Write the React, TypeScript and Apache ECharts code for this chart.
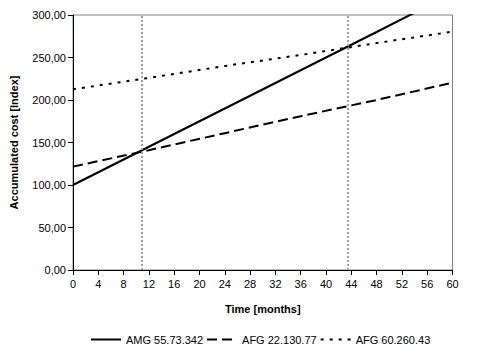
import React, { useEffect, useRef } from "react";
import * as echarts from "echarts";

const months = [0, 12, 24, 36, 48, 60];
const amg = [100, 145, 190, 235, 280, 325.5];
const afg22 = [121.6, 141, 161, 181, 200, 220.4];
const afg60 = [212.6, 226, 240, 253, 267, 280.4];
const breakEven = [10.9, 43.4];
const seriesNames = ["AMG 55.73.342", "AFG 22.130.77", "AFG 60.260.43"];

const FONT = "Liberation Sans, Arial, sans-serif";

export default function App() {
  const ref = useRef<HTMLDivElement>(null);
  useEffect(() => {
    const chart = echarts.init(ref.current!, null, { renderer: "svg" });
    const pair = (arr: number[]) => months.map((m, i) => [m, arr[i]]);
    chart.setOption({
      animation: false,
      textStyle: { fontFamily: FONT },
      grid: {
        left: 68,
        top: 15,
        right: 31.5,
        bottom: 86,
        show: true,
        borderColor: "#808080",
        borderWidth: 1,
        backgroundColor: "transparent",
      },
      legend: {
        left: 85,
        top: 329,
        itemWidth: 30,
        itemHeight: 12,
        itemGap: 3,
        itemStyle: { opacity: 0 },
        textStyle: { fontFamily: FONT, fontSize: 11, color: "#000" },
        data: seriesNames,
      },
      xAxis: {
        type: "value",
        min: 0,
        max: 60,
        interval: 4,
        name: "Time [months]",
        nameLocation: "middle",
        nameGap: 33,
        nameTextStyle: { fontFamily: FONT, fontSize: 11, fontWeight: "bold", color: "#000" },
        axisLine: { show: true, lineStyle: { color: "#000", width: 1 } },
        axisTick: { show: true, length: 5, lineStyle: { color: "#000" } },
        axisLabel: { fontFamily: FONT, fontSize: 11, color: "#000", margin: 8 },
        splitLine: { show: false },
      },
      yAxis: {
        type: "value",
        min: 0,
        max: 300,
        interval: 50,
        name: "Accumulated cost [Index]",
        nameLocation: "middle",
        nameGap: 54,
        nameTextStyle: { fontFamily: FONT, fontSize: 11, fontWeight: "bold", color: "#000" },
        axisLine: { show: true, lineStyle: { color: "#000", width: 1 } },
        axisTick: { show: true, length: 5, lineStyle: { color: "#000" } },
        axisLabel: {
          fontFamily: FONT,
          fontSize: 11,
          color: "#000",
          margin: 7,
          formatter: (v: number) => v.toFixed(2).replace(".", ","),
        },
        splitLine: { show: false },
      },
      series: [
        {
          name: seriesNames[0],
          type: "line",
          data: pair(amg),
          symbol: "none",
          clip: true,
          lineStyle: { color: "#000", width: 2, type: "solid" },
          itemStyle: { color: "#000" },
          markLine: {
            silent: true,
            symbol: "none",
            label: { show: false },
            lineStyle: { color: "#a0a0a0", width: 2, type: [2, 2] },
            data: breakEven.map((x) => ({ xAxis: x })),
          },
        },
        {
          name: seriesNames[1],
          type: "line",
          data: pair(afg22),
          symbol: "none",
          lineStyle: { color: "#000", width: 2, type: [10, 5] },
          itemStyle: { color: "#000" },
        },
        {
          name: seriesNames[2],
          type: "line",
          data: pair(afg60),
          symbol: "none",
          lineStyle: { color: "#000", width: 2, type: [3, 6] },
          itemStyle: { color: "#000" },
        },
      ],
    });
    return () => chart.dispose();
  }, []);
  return (
    <div
      ref={ref}
      style={{ position: "fixed", left: 0, top: 0, width: 484, height: 356, background: "#fff" }}
    />
  );
}
